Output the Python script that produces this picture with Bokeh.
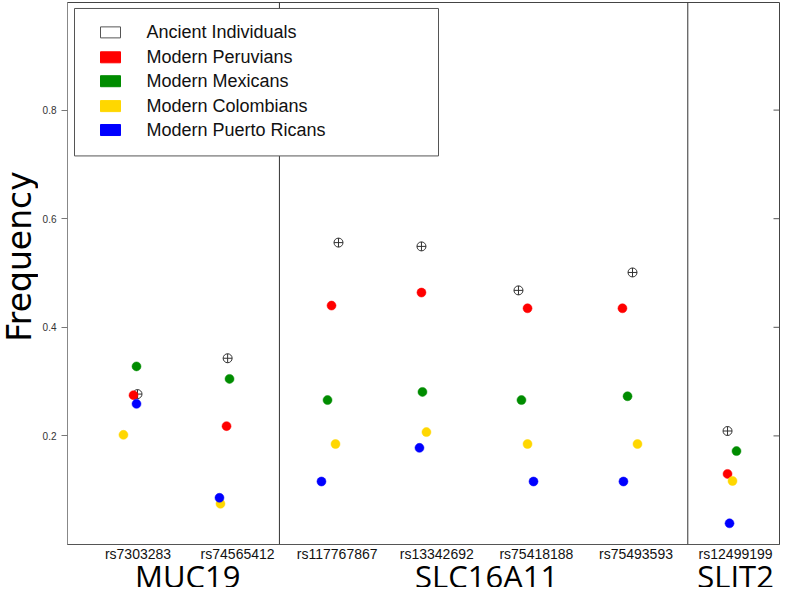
import math
from bokeh.plotting import figure
from bokeh.layouts import row, column
from bokeh.models import Range1d, FixedTicker
from bokeh.core.properties import value
from bokeh.embed import file_html
from bokeh.resources import INLINE

# ---------------- data ----------------
snps = ["rs7303283", "rs74565412", "rs117767867", "rs13342692",
        "rs75418188", "rs75493593", "rs12499199"]
genes = ["MUC19", "MUC19", "SLC16A11", "SLC16A11", "SLC16A11", "SLC16A11", "SLIT2"]

ancient = [0.277, 0.343, 0.556, 0.549, 0.468, 0.501, 0.209]
peruvians = [0.275, 0.218, 0.440, 0.464, 0.435, 0.435, 0.130]
mexicans = [0.328, 0.305, 0.266, 0.281, 0.266, 0.273, 0.172]
colombians = [0.202, 0.075, 0.185, 0.207, 0.185, 0.185, 0.117]
puerto_ricans = [0.259, 0.086, 0.116, 0.178, 0.116, 0.116, 0.039]

# horizontal jitter of each point (fraction of category spacing)
jit_ancient = [-0.005, -0.10, 0.013, -0.154, -0.18, -0.035, -0.081]
jit_peruvians = [-0.045, -0.111, -0.057, -0.154, -0.089, -0.136, -0.081]
jit_mexicans = [-0.015, -0.081, -0.097, -0.144, -0.150, -0.085, 0.009]
jit_colombians = [-0.146, -0.172, -0.017, -0.104, -0.089, 0.015, -0.031]
jit_puerto_ricans = [-0.015, -0.182, -0.158, -0.174, -0.029, -0.126, -0.061]

legend_labels = ["Ancient Individuals", "Modern Peruvians", "Modern Mexicans",
                 "Modern Colombians", "Modern Puerto Ricans"]
legend_fill = ["white", "#FF0000", "#008C00", "#FFD700", "#0000FF"]
legend_line = ["#555555", "#FF0000", "#008C00", "#FFD700", "#0000FF"]

y_ticks = [0.2, 0.4, 0.6, 0.8]
group_breaks = [2.42, 6.52]
y_title = "Frequency"

# ---------------- geometry (page px -> data) ----------------
W, H = 780, 587
LEFT_W = 38            # width of the strip holding the y title
MAIN_H = 564           # height of the main plot
CAT0_PX = 137.5        # page x of first category
CAT_STEP = 99.6        # px per category
Y0_PX = 546.0          # page y of value 0
Y_UNIT = 545.0         # px per unit
FRAME_L, FRAME_R, FRAME_T = 67, 779, 2


def px2x(px):
    return 1 + (px - CAT0_PX) / CAT_STEP


def px2y(py):
    return (Y0_PX - py) / Y_UNIT


x_pos = [i + 1 for i in range(len(snps))]

p = figure(width=W - LEFT_W, height=MAIN_H,
           x_range=Range1d(px2x(FRAME_L), px2x(FRAME_R)),
           y_range=Range1d(0, px2y(FRAME_T)),
           output_backend="svg", toolbar_location=None,
           min_border_left=FRAME_L - LEFT_W, min_border_right=W - FRAME_R,
           min_border_top=FRAME_T, min_border_bottom=int(MAIN_H - Y0_PX))

p.xgrid.visible = False
p.ygrid.visible = False
p.outline_line_color = "#444444"
p.outline_line_width = 1
p.background_fill_color = "white"
p.border_fill_color = "white"

# x axis
xa = p.xaxis[0]
xa.ticker = FixedTicker(ticks=x_pos)
xa.major_label_overrides = {x: s for x, s in zip(x_pos, snps)}
xa.major_tick_in = 0
xa.major_tick_out = 0
xa.minor_tick_in = 0
xa.minor_tick_out = 0
xa.axis_line_color = "#555555"
xa.major_label_text_font = "Liberation Sans"
xa.major_label_text_font_size = "14px"
xa.major_label_text_color = "#111111"
xa.major_label_standoff = 1

# left y axis
ya = p.yaxis[0]
ya.ticker = FixedTicker(ticks=y_ticks)
ya.major_label_overrides = {t: f"{t:.1f}" for t in y_ticks}
ya.major_tick_out = 6
ya.major_tick_in = 0
ya.minor_tick_in = 0
ya.minor_tick_out = 0
ya.axis_line_color = "#888888"
ya.major_tick_line_color = "#777777"
ya.major_label_text_font = "Liberation Sans"
ya.major_label_text_font_size = "10px"
ya.major_label_text_color = "#333333"
ya.major_label_standoff = 5

# right-side inward ticks
x_right = px2x(FRAME_R)
p.ray(x=[x_right] * len(y_ticks), y=y_ticks, length=6, length_units="screen",
      angle=math.pi, line_color="#555555", line_width=1)

# group separators
y_top = px2y(FRAME_T)
p.segment(x0=group_breaks, x1=group_breaks, y0=[0] * len(group_breaks),
          y1=[y_top] * len(group_breaks), line_color="#333333", line_width=1)

# legend box (manual, to match the reference layout)
p.quad(left=[px2x(74)], right=[px2x(438)], top=[px2y(8)], bottom=[px2y(156)],
       fill_color="white", line_color="#555555", line_width=1)
row_py = [32, 57, 81, 106, 130]
p.rect(x=[px2x(110)] * 5, y=[px2y(r) for r in row_py], width=20, height=11,
       width_units="screen", height_units="screen",
       fill_color=legend_fill, line_color=legend_line, line_width=1)
p.text(x=[px2x(146)] * 5, y=[px2y(r) for r in row_py], text=legend_labels,
       text_font=value("Liberation Sans"), text_font_size="18px",
       text_baseline="middle", text_align="left", text_color="#111111")

# data points
p.scatter([x + d for x, d in zip(x_pos, jit_ancient)], ancient, marker="circle_cross",
          size=9, fill_color=None, line_color="#333333", line_width=1)
series = [
    (peruvians, jit_peruvians, "#FF0000"),
    (mexicans, jit_mexicans, "#008C00"),
    (colombians, jit_colombians, "#FFD700"),
    (puerto_ricans, jit_puerto_ricans, "#0000FF"),
]
for vals, jit, col in series:
    p.scatter([x + d for x, d in zip(x_pos, jit)], vals, marker="circle",
              size=9, fill_color=col, line_color=col, line_width=0.5)

# ---------------- strip below: gene group labels (frame aligned with main) ----------------
BOT_H = H - MAIN_H
pb = figure(width=W - LEFT_W, height=BOT_H,
            x_range=p.x_range, y_range=Range1d(0, BOT_H),
            output_backend="svg", toolbar_location=None,
            x_axis_type=None, y_axis_type=None,
            min_border_left=FRAME_L - LEFT_W, min_border_right=W - FRAME_R,
            min_border_top=0, min_border_bottom=0)
pb.outline_line_color = None
pb.xgrid.visible = False
pb.ygrid.visible = False

seen = []
for g in genes:
    if g not in seen:
        seen.append(g)
centers = []
for g in seen:
    xs = [x for x, gg in zip(x_pos, genes) if gg == g]
    centers.append(sum(xs) / len(xs))
pb.text(x=centers, y=[H - 575] * len(seen), text=seen,
        text_font=value("Open Sans"), text_font_size="31px",
        text_align="center", text_baseline="middle", text_color="#000000")

# ---------------- strip left: y axis title ----------------
pl = figure(width=LEFT_W, height=H, x_range=Range1d(0, LEFT_W), y_range=Range1d(0, H),
            output_backend="svg", toolbar_location=None,
            x_axis_type=None, y_axis_type=None,
            min_border_left=0, min_border_right=0, min_border_top=0, min_border_bottom=0)
pl.outline_line_color = None
pl.xgrid.visible = False
pl.ygrid.visible = False
pl.text(x=[19], y=[H - 256], text=[y_title], angle=math.pi / 2,
        text_font=value("DejaVu Sans"), text_font_size="33px",
        text_align="center", text_baseline="middle", text_color="#000000")

layout = row(pl, column(p, pb))
open("out.html", "w").write(file_html(layout, INLINE))
